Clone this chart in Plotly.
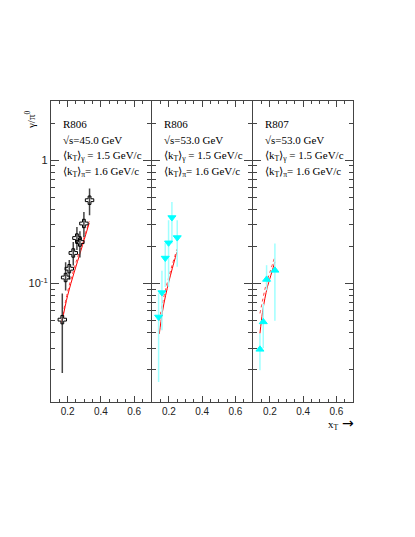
import plotly.graph_objects as go

# panel 1: R806, sqrt(s)=45 GeV (open crosses)
x1 = [0.168, 0.188, 0.210, 0.234, 0.256, 0.274, 0.298, 0.332]
y1 = [0.051, 0.112, 0.132, 0.177, 0.234, 0.217, 0.307, 0.474]
y1_hi = [0.083, 0.149, 0.155, 0.217, 0.288, 0.266, 0.381, 0.589]
y1_lo = [0.0188, 0.088, 0.108, 0.140, 0.187, 0.163, 0.239, 0.358]

# panel 2: R806, sqrt(s)=53 GeV (down triangles)
x2 = [0.138, 0.158, 0.178, 0.198, 0.218, 0.250]
y2 = [0.0536, 0.0845, 0.161, 0.214, 0.343, 0.236]
y2_hi = [0.0835, 0.127, 0.214, 0.326, 0.459, 0.326]
y2_lo = [0.0159, 0.0418, 0.094, 0.094, 0.211, 0.137]

# panel 3: R807, sqrt(s)=53 GeV (up triangles)
x3 = [0.140, 0.160, 0.180, 0.230]
y3 = [0.0293, 0.0489, 0.108, 0.128]
y3_hi = [0.0394, 0.0686, 0.141, 0.211]
y3_lo = [0.0198, 0.030, 0.088, 0.050]

# QCD curves (solid / dotted)
c1_x = [0.165, 0.20, 0.24, 0.28, 0.33]
c1_solid = [0.048, 0.080, 0.124, 0.185, 0.310]
c1_dot = [0.050, 0.086, 0.134, 0.198, 0.320]

c2_x = [0.142, 0.16, 0.18, 0.20, 0.22, 0.248]
c2_solid = [0.039, 0.058, 0.080, 0.104, 0.132, 0.180]
c2_dot = [0.050, 0.068, 0.090, 0.114, 0.142, 0.190]

c3_x = [0.140, 0.155, 0.170, 0.185, 0.200, 0.230]
c3_solid = [0.0394, 0.058, 0.076, 0.094, 0.110, 0.150]
c3_dot = [0.0573, 0.072, 0.090, 0.107, 0.124, 0.165]

labels = [
    ["R806", "√s=45.0 GeV"],
    ["R806", "√s=53.0 GeV"],
    ["R807", "√s=53.0 GeV"],
]
kt_gamma = "⟨k<sub>T</sub>⟩<sub>γ</sub> = 1.5 GeV/c"
kt_pi = "⟨k<sub>T</sub>⟩<sub>π</sub>= 1.6 GeV/c"

# page body has an 8px margin, so the figure starts at (8, 8)
OFF = 8
W, H = 415 - OFF, 537 - OFF
panels_px = [(51, 150.7), (152.3, 252), (253.3, 353)]
top_px, bot_px = 101, 402


def px_x(v):
    return (v - OFF) / W


def px_y(v):
    return 1 - (v - OFF) / H


SERIF = "Liberation Serif, Times New Roman, serif"
SANS = "Liberation Sans, Arial, sans-serif"

fig = go.Figure()

data = [
    (x1, y1, y1_hi, y1_lo, "cross-open", "black", "#444444", 7),
    (x2, y2, y2_hi, y2_lo, "triangle-down", "#00FFFF", "#9FFFFF", 7),
    (x3, y3, y3_hi, y3_lo, "triangle-up", "#00FFFF", "#9FFFFF", 7),
]
curves = [(c1_x, c1_solid, c1_dot), (c2_x, c2_solid, c2_dot), (c3_x, c3_solid, c3_dot)]

minor_y = [v * 10 ** e for e in (-2, -1, 0) for v in range(2, 10)]

for i, (xs, ys, hi, lo, sym, col, ecol, ms) in enumerate(data):
    ax = "" if i == 0 else str(i + 1)
    cx, cs, cd = curves[i]
    fig.add_trace(go.Scatter(x=cx, y=cd, mode="lines", xaxis="x" + ax, yaxis="y" + ax,
                             line=dict(color="#FF4040", width=1, dash="dot", shape="spline")))
    fig.add_trace(go.Scatter(x=cx, y=cs, mode="lines", xaxis="x" + ax, yaxis="y" + ax,
                             line=dict(color="#FF0000", width=1, shape="spline")))
    fig.add_trace(go.Scatter(
        x=xs, y=ys, mode="markers", xaxis="x" + ax, yaxis="y" + ax,
        marker=dict(symbol=sym, size=ms, color=col,
                    line=dict(color=col, width=1)),
        error_y=dict(type="data", symmetric=False,
                     array=[h - y for h, y in zip(hi, ys)],
                     arrayminus=[y - l for l, y in zip(lo, ys)],
                     color=ecol, thickness=1.5, width=0),
    ))

    x0, x1p = panels_px[i]
    fig.update_layout(**{
        "xaxis" + ax: dict(
            domain=[px_x(x0), px_x(x1p)], range=[0.1, 0.7], anchor="y" + ax,
            tickvals=[0.2, 0.4, 0.6], ticktext=["0.2", "0.4", "0.6"],
            ticks="inside", ticklen=6, tickcolor="#444", showline=True,
            linecolor="#444", linewidth=1.2, mirror="allticks", showgrid=False,
            zeroline=False, tickfont=dict(family=SANS, size=10, color="#222"),
            minor=dict(tickmode="array", tickvals=[0.15, 0.25, 0.3, 0.35, 0.45, 0.5, 0.55, 0.65],
                       ticks="inside", ticklen=3, tickcolor="#444"),
        ),
        "yaxis" + ax: dict(
            domain=[px_y(bot_px), px_y(top_px)], type="log", range=[-1.96, 0.48],
            anchor="x" + ax, tickvals=[0.1, 1],
            ticktext=["10<sup>-1</sup>", "1"] if i == 0 else ["", ""],
            showticklabels=(i == 0),
            ticks="inside", ticklen=8, tickcolor="#444", showline=True,
            linecolor="#444", linewidth=1.2, mirror="allticks", showgrid=False,
            zeroline=False, tickfont=dict(family=SANS, size=11, color="#222"),
            minor=dict(tickmode="array", tickvals=minor_y, ticks="inside",
                       ticklen=4, tickcolor="#444"),
        ),
    })

    lines = labels[i] + [kt_gamma, kt_pi]
    for t, ypx in zip(lines, [124, 140, 156, 172]):
        fig.add_annotation(text=t, xref="paper", yref="paper", x=px_x(x0 + 10),
                           y=px_y(ypx), xanchor="left", yanchor="middle",
                           showarrow=False, font=dict(family=SERIF, size=11, color="black"))

fig.add_annotation(text="γ/π<sup>0</sup>", xref="paper", yref="paper", x=px_x(21), y=px_y(109),
                   textangle=-90, showarrow=False, font=dict(family=SERIF, size=11, color="black"))
fig.add_annotation(text="x<sub>T</sub>", xref="paper", yref="paper", x=px_x(341), y=px_y(416),
                   xanchor="right", yanchor="top",
                   showarrow=False, font=dict(family=SERIF, size=11, color="black"))
fig.add_annotation(text="→", xref="paper", yref="paper", x=px_x(340), y=px_y(413),
                   xanchor="left", yanchor="top",
                   showarrow=False, font=dict(family="DejaVu Sans", size=14, color="black"))

fig.update_layout(
    width=W, height=H, margin=dict(l=0, r=0, t=0, b=0),
    plot_bgcolor="white", paper_bgcolor="white", showlegend=False,
)

fig.write_html("out.html")
